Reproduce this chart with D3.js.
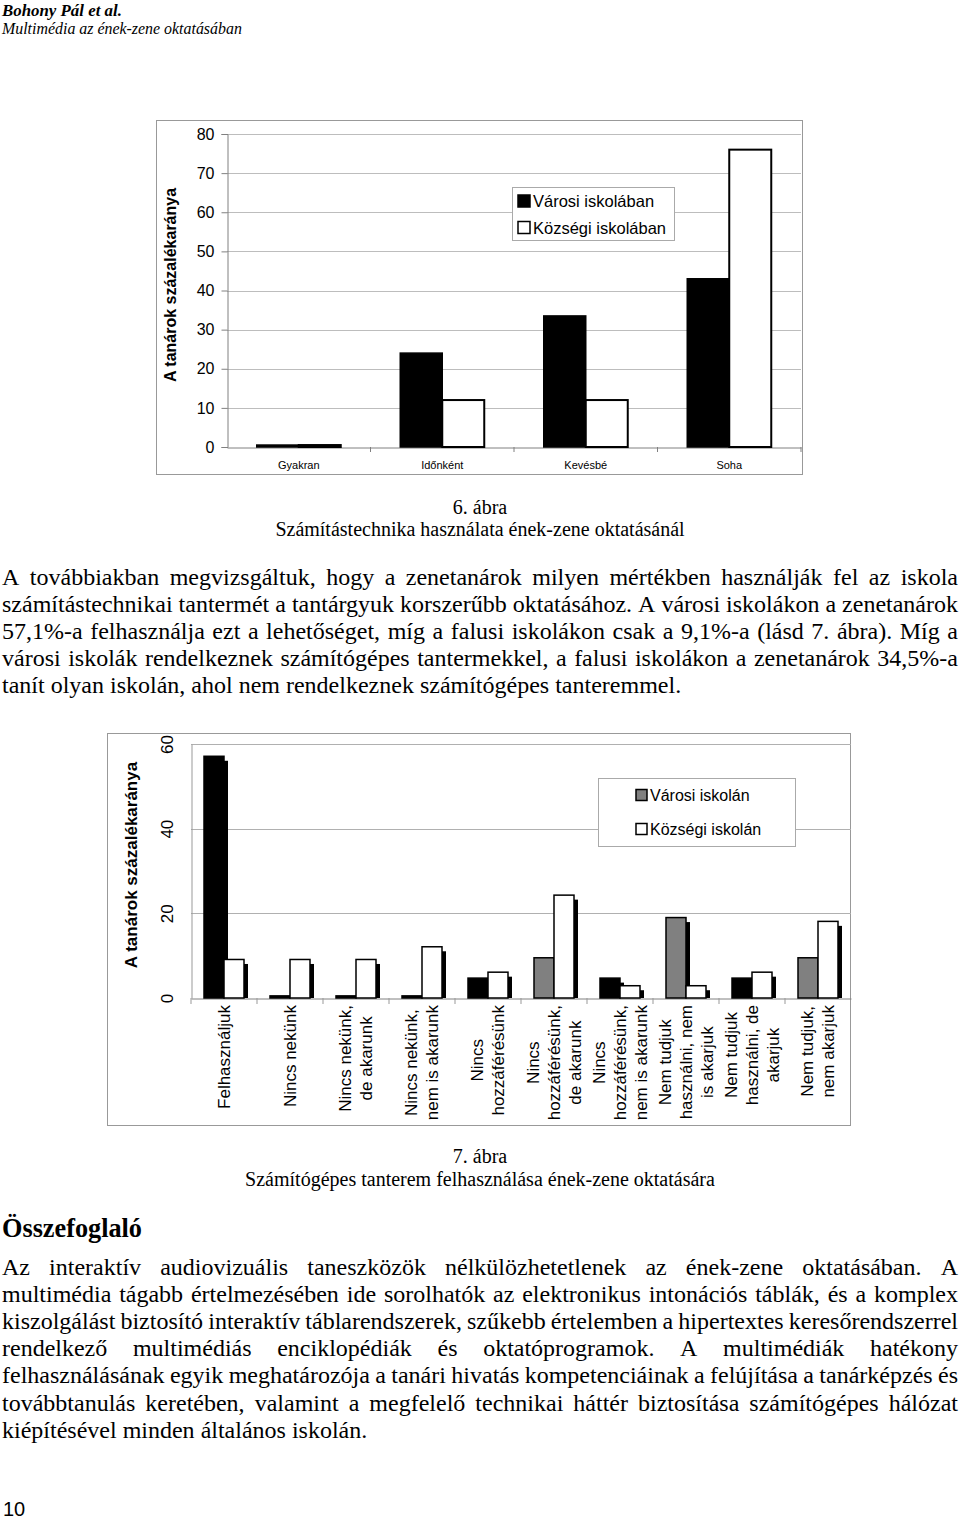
<!DOCTYPE html>
<html><head><meta charset="utf-8">
<script src="https://cdn.jsdelivr.net/npm/d3@7/dist/d3.min.js"></script>
<style>body{margin:0;background:#fff}svg{display:block}</style>
</head><body>
<svg id="page" width="960" height="1523"></svg>
<script>
// ---------- DATA ----------
const fig6Categories = ["Gyakran", "Időnként", "Kevésbé", "Soha"];
const fig6Varosi = [0.5, 24, 33.5, 43];
const fig6Kozsegi = [0.5, 12, 12, 76];
const fig6Ticks = [0, 10, 20, 30, 40, 50, 60, 70, 80];
const fig6Series = ["Városi iskolában", "Községi iskolában"];

const fig7Categories = [
  ["Felhasználjuk"],
  ["Nincs nekünk"],
  ["Nincs nekünk,", "de akarunk"],
  ["Nincs nekünk,", "nem is akarunk"],
  ["Nincs", "hozzáférésünk"],
  ["Nincs", "hozzáférésünk,", "de akarunk"],
  ["Nincs", "hozzáférésünk,", "nem is akarunk"],
  ["Nem tudjuk", "használni, nem", "is akarjuk"],
  ["Nem tudjuk", "használni, de", "akarjuk"],
  ["Nem tudjuk,", "nem akarjuk"]
];
const fig7Varosi = [57.1, 0.5, 0.5, 0.5, 4.7, 9.5, 4.7, 19, 4.7, 9.5];
const fig7Kozsegi = [9.1, 9.1, 9.1, 12.1, 6.1, 24.3, 2.9, 2.9, 6.1, 18.1];
const fig7VarosiShade = ["#000", "#000", "#000", "#000", "#000", "#808080", "#000", "#808080", "#000", "#808080"];
const fig7Ticks = [0, 20, 40, 60];
const fig7Series = ["Városi iskolán", "Községi iskolán"];

const headerLines = ["Bohony Pál et al.", "Multimédia az ének-zene oktatásában"];
const fig6Caption = ["6. ábra", "Számítástechnika használata ének-zene oktatásánál"];
const fig7Caption = ["7. ábra", "Számítógépes tanterem felhasználása ének-zene oktatására"];
const para1 = [
  "A továbbiakban megvizsgáltuk, hogy a zenetanárok milyen mértékben használják fel az iskola",
  "számítástechnikai tantermét a tantárgyuk korszerűbb oktatásához. A városi iskolákon a zenetanárok",
  "57,1%-a felhasználja ezt a lehetőséget, míg a falusi iskolákon csak a 9,1%-a (lásd 7. ábra). Míg a",
  "városi iskolák rendelkeznek számítógépes tantermekkel, a falusi iskolákon a zenetanárok 34,5%-a",
  "tanít olyan iskolán, ahol nem rendelkeznek számítógépes tanteremmel."
];
const heading2 = "Összefoglaló";
const para2 = [
  "Az interaktív audiovizuális taneszközök nélkülözhetetlenek az ének-zene oktatásában. A",
  "multimédia tágabb értelmezésében ide sorolhatók az elektronikus intonációs táblák, és a komplex",
  "kiszolgálást biztosító interaktív táblarendszerek, szűkebb értelemben a hipertextes keresőrendszerrel",
  "rendelkező multimédiás enciklopédiák és oktatóprogramok. A multimédiák hatékony",
  "felhasználásának egyik meghatározója a tanári hivatás kompetenciáinak a felújítása a tanárképzés és",
  "továbbtanulás keretében, valamint a megfelelő technikai háttér biztosítása számítógépes hálózat",
  "kiépítésével minden általános iskolán."
];
const pageNumber = "10";

// ---------- SETUP ----------
const svg = d3.select("#page");
const SERIF = "'Liberation Serif','Times New Roman',serif";
const SANS = "'Liberation Sans',Arial,sans-serif";
svg.append("rect").attr("width", 960).attr("height", 1523).attr("fill", "#fff");

function fitText(t, target) {
  const w = t.node().getComputedTextLength();
  const fs = parseFloat(t.attr("font-size"));
  t.attr("font-size", fs * target / w);
}

// Header
const h1 = svg.append("text").attr("x", 2).attr("y", 16).attr("font-family", SERIF)
  .attr("font-style", "italic").attr("font-weight", "bold").attr("font-size", 16).text(headerLines[0]);
fitText(h1, 120);
const h2 = svg.append("text").attr("x", 2).attr("y", 34).attr("font-family", SERIF)
  .attr("font-style", "italic").attr("font-size", 16).text(headerLines[1]);
fitText(h2, 240);

// ---------- FIGURE 6 ----------
(function () {
  const L = 227, R = 801, T = 134, B = 447;
  svg.append("rect").attr("x", 156.5).attr("y", 120.5).attr("width", 646).attr("height", 354)
    .attr("fill", "#fff").attr("stroke", "#999").attr("stroke-width", 1);
  const x = d3.scaleBand().domain(fig6Categories).range([L, R]);
  const y = d3.scaleLinear().domain([0, 80]).range([B, T]);
  const g = svg.append("g");
  g.selectAll("line.grid").data(fig6Ticks.filter(d => d > 0)).join("line")
    .attr("x1", L).attr("x2", R).attr("y1", d => Math.round(y(d)) + 0.5).attr("y2", d => Math.round(y(d)) + 0.5)
    .attr("stroke", "#bdbdbd").attr("stroke-width", 1);
  const yAxis = d3.axisLeft(y).tickValues(fig6Ticks).tickSize(6).tickPadding(7);
  const ya = g.append("g").attr("transform", `translate(${L + 0.5},0)`).call(yAxis);
  ya.select(".domain").attr("stroke", "#808080");
  ya.selectAll(".tick line").attr("stroke", "#808080");
  ya.selectAll(".tick text").attr("font-family", SANS).attr("font-size", 16).attr("fill", "#000");
  // x axis
  const xAxis = d3.axisBottom(x).tickSize(0).tickPadding(14);
  const xa = g.append("g").attr("transform", `translate(0,${B + 0.5})`).call(xAxis);
  xa.select(".domain").attr("stroke", "#808080");
  xa.selectAll(".tick text").attr("font-family", SANS).attr("font-size", 11).attr("fill", "#000");
  g.selectAll("line.sep").data(fig6Categories).join("line")
    .attr("x1", d => x(d) + x.bandwidth()).attr("x2", d => x(d) + x.bandwidth())
    .attr("y1", B).attr("y2", B + 5).attr("stroke", "#808080");
  const bw = 42;
  g.selectAll("rect.v").data(fig6Categories).join("rect")
    .attr("x", d => x(d) + x.bandwidth() / 2 - bw).attr("width", bw)
    .attr("y", (d, i) => y(fig6Varosi[i])).attr("height", (d, i) => B - y(fig6Varosi[i]))
    .attr("fill", "#000").attr("stroke", "#000").attr("stroke-width", 1.5);
  g.selectAll("rect.k").data(fig6Categories).join("rect")
    .attr("x", d => x(d) + x.bandwidth() / 2).attr("width", bw)
    .attr("y", (d, i) => y(fig6Kozsegi[i])).attr("height", (d, i) => B - y(fig6Kozsegi[i]))
    .attr("fill", "#fff").attr("stroke", "#000").attr("stroke-width", 2);
  // y title
  svg.append("text").attr("transform", `translate(170,285) rotate(-90)`)
    .attr("text-anchor", "middle").attr("dominant-baseline", "central")
    .attr("font-family", SANS).attr("font-weight", "bold").attr("font-size", 16).text("A tanárok százalékaránya");
  // legend
  const lg = svg.append("g");
  lg.append("rect").attr("x", 512.5).attr("y", 187.5).attr("width", 162).attr("height", 53)
    .attr("fill", "#fff").attr("stroke", "#aaa");
  fig6Series.forEach((s, i) => {
    const cy = 201 + i * 26.5;
    lg.append("rect").attr("x", 518).attr("y", cy - 6).attr("width", 12).attr("height", 12)
      .attr("fill", i === 0 ? "#000" : "#fff").attr("stroke", "#000").attr("stroke-width", 1.5);
    lg.append("text").attr("x", 533).attr("y", cy + 6).attr("font-family", SANS).attr("font-size", 16.5).text(s);
  });
})();

// ---------- Text blocks ----------
function centered(lines, y0, lh, fs) {
  lines.forEach((l, i) => {
    svg.append("text").attr("x", 480).attr("y", y0 + i * lh).attr("text-anchor", "middle")
      .attr("font-family", SERIF).attr("font-size", fs).text(l);
  });
}
function paragraph(lines, y0, lh, fs) {
  const X0 = 2, X1 = 958;
  lines.forEach((ln, i) => {
    const g = svg.append("g").attr("transform", `translate(0,${y0 + i * lh})`);
    const words = ln.split(" ");
    const ts = words.map(w => g.append("text").attr("font-family", SERIF).attr("font-size", fs).attr("y", 0).text(w));
    const ws = ts.map(t => t.node().getComputedTextLength());
    const sum = d3.sum(ws);
    const last = i === lines.length - 1;
    const gap = (!last && words.length > 1) ? (X1 - X0 - sum) / (words.length - 1) : fs * 0.25;
    let x = X0;
    ts.forEach((t, k) => { t.attr("x", x); x += ws[k] + gap; });
  });
}
centered(fig6Caption, 514, 22, 20);
paragraph(para1, 585, 27, 24);

// ---------- FIGURE 7 ----------
(function () {
  const L = 191, R = 851, T = 744, B = 998;
  svg.append("rect").attr("x", 107.5).attr("y", 733.5).attr("width", 743).attr("height", 392)
    .attr("fill", "#fff").attr("stroke", "#999");
  const idx = d3.range(fig7Categories.length);
  const x = d3.scaleBand().domain(idx).range([L, R]);
  const y = d3.scaleLinear().domain([0, 60]).range([B, T]);
  const g = svg.append("g");
  g.selectAll("line.grid").data(fig7Ticks.filter(d => d > 0)).join("line")
    .attr("x1", L).attr("x2", R).attr("y1", d => Math.round(y(d)) + 0.5).attr("y2", d => Math.round(y(d)) + 0.5)
    .attr("stroke", "#b0b0b0");
  const yAxis = d3.axisLeft(y).tickValues(fig7Ticks).tickSize(0).tickFormat(d3.format("d"));
  const ya = g.append("g").attr("transform", `translate(${L + 0.5},0)`).call(yAxis);
  ya.select(".domain").attr("stroke", "#999");
  ya.selectAll(".tick text").attr("dy", null)
    .attr("text-anchor", "middle").attr("dominant-baseline", "central")
    .attr("transform", `translate(-24,0) rotate(-90)`).attr("x", 0).attr("y", 0)
    .attr("font-family", SANS).attr("font-size", 17).attr("fill", "#000");
  const xAxis = d3.axisBottom(x).tickSize(0).tickFormat("");
  const xa = g.append("g").attr("transform", `translate(0,${B + 0.5})`).call(xAxis);
  xa.select(".domain").attr("stroke", "#808080");
  g.selectAll("line.sep").data(idx).join("line")
    .attr("x1", d => x(d)).attr("x2", d => x(d)).attr("y1", B).attr("y2", B + 6).attr("stroke", "#999");
  const bw = 20, dx = 4, dy = 4.5;
  // shadows
  g.selectAll("rect.sv").data(idx).join("rect")
    .attr("x", d => x(d) + x.bandwidth() / 2 - bw + dx).attr("width", bw)
    .attr("y", d => Math.min(y(fig7Varosi[d]) + dy, B)).attr("height", d => Math.max(0, B - y(fig7Varosi[d]) - dy))
    .attr("fill", "#000");
  g.selectAll("rect.sk").data(idx).join("rect")
    .attr("x", d => x(d) + x.bandwidth() / 2 + dx).attr("width", bw)
    .attr("y", d => Math.min(y(fig7Kozsegi[d]) + dy, B)).attr("height", d => Math.max(0, B - y(fig7Kozsegi[d]) - dy))
    .attr("fill", "#000");
  g.selectAll("rect.v").data(idx).join("rect")
    .attr("x", d => x(d) + x.bandwidth() / 2 - bw).attr("width", bw)
    .attr("y", d => y(fig7Varosi[d])).attr("height", d => B - y(fig7Varosi[d]))
    .attr("fill", d => fig7VarosiShade[d]).attr("stroke", "#000").attr("stroke-width", 1.5);
  g.selectAll("rect.k").data(idx).join("rect")
    .attr("x", d => x(d) + x.bandwidth() / 2).attr("width", bw)
    .attr("y", d => y(fig7Kozsegi[d])).attr("height", d => B - y(fig7Kozsegi[d]))
    .attr("fill", "#fff").attr("stroke", "#000").attr("stroke-width", 1.5);
  // category labels
  idx.forEach(i => {
    const lines = fig7Categories[i];
    const cx = x(i) + x.bandwidth() / 2;
    const ts = lines.map(l => g.append("text").attr("font-family", SANS).attr("font-size", 17)
      .attr("text-anchor", "middle").attr("dominant-baseline", "central").text(l));
    const maxLen = d3.max(ts, t => t.node().getComputedTextLength());
    const cy = B + 7 + maxLen / 2;
    ts.forEach((t, j) => {
      const lx = cx + (j - (lines.length - 1) / 2) * 21;
      t.attr("transform", `translate(${lx},${cy}) rotate(-90)`);
    });
  });
  // y title
  svg.append("text").attr("transform", `translate(131,865) rotate(-90)`)
    .attr("text-anchor", "middle").attr("dominant-baseline", "central")
    .attr("font-family", SANS).attr("font-weight", "bold").attr("font-size", 17).text("A tanárok százalékaránya");
  // legend
  const lg = svg.append("g");
  lg.append("rect").attr("x", 598.5).attr("y", 778.5).attr("width", 197).attr("height", 68)
    .attr("fill", "#fff").attr("stroke", "#aaa");
  fig7Series.forEach((s, i) => {
    const cy = 795 + i * 34;
    lg.append("rect").attr("x", 636).attr("y", cy - 5.5).attr("width", 11).attr("height", 11)
      .attr("fill", i === 0 ? "#808080" : "#fff").attr("stroke", "#000").attr("stroke-width", 1.5);
    lg.append("text").attr("x", 650).attr("y", cy + 6).attr("font-family", SANS).attr("font-size", 16).text(s);
  });
})();

centered(fig7Caption, 1163, 23, 20);
const hd = svg.append("text").attr("x", 2).attr("y", 1237).attr("font-family", SERIF)
  .attr("font-weight", "bold").attr("font-size", 24).text(heading2);
fitText(hd, 140);
paragraph(para2, 1275, 27.1, 24);
svg.append("text").attr("x", 3).attr("y", 1516).attr("font-family", SANS).attr("font-size", 20).text(pageNumber);
</script>
</body></html>
